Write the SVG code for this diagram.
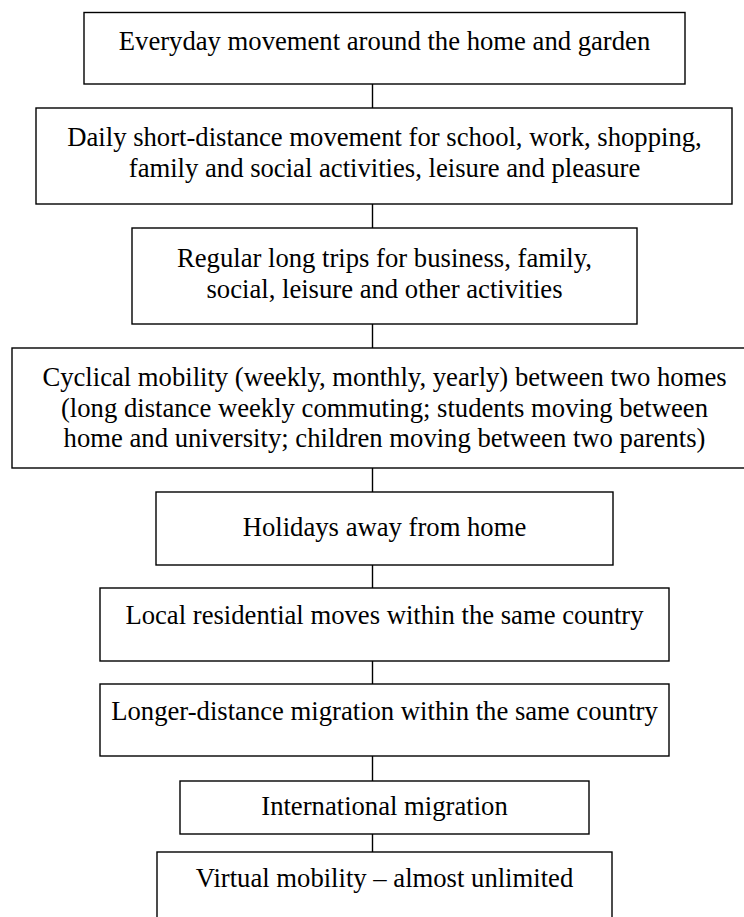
<svg xmlns="http://www.w3.org/2000/svg" width="744" height="917" viewBox="0 0 744 917">
<style>
.box{fill:#fff;stroke:#000;stroke-width:1.4}
.t{font-family:"Liberation Serif","Times New Roman",serif;font-size:26.67px;fill:#000;text-anchor:middle}
.c{stroke:#000;stroke-width:1.4;fill:none}
</style>
<rect width="744" height="917" fill="#fff"/>
<g id="connectors">
<line class="c" x1="372.5" y1="84" x2="372.5" y2="108"/>
<line class="c" x1="372.5" y1="204" x2="372.5" y2="228"/>
<line class="c" x1="372.5" y1="324" x2="372.5" y2="348"/>
<line class="c" x1="372.5" y1="468" x2="372.5" y2="492"/>
<line class="c" x1="372.5" y1="565" x2="372.5" y2="588"/>
<line class="c" x1="372.5" y1="661" x2="372.5" y2="684"/>
<line class="c" x1="372.5" y1="756" x2="372.5" y2="781"/>
<line class="c" x1="372.5" y1="834" x2="372.5" y2="852"/>
</g>
<g id="n1"><rect class="box" x="84" y="12.5" width="601" height="71.5"/><text class="t" x="384.5" y="50">Everyday movement around the home and garden</text></g>
<g id="n2"><rect class="box" x="36" y="108" width="696" height="96"/><text class="t" x="384.5" y="146">Daily short-distance movement for school, work, shopping,</text><text class="t" x="384.5" y="177">family and social activities, leisure and pleasure</text></g>
<g id="n3"><rect class="box" x="132" y="228" width="505" height="96"/><text class="t" x="384.5" y="267">Regular long trips for business, family,</text><text class="t" x="384.5" y="298">social, leisure and other activities</text></g>
<g id="n4"><rect class="box" x="12" y="348" width="745" height="120"/><text class="t" x="384.5" y="386">Cyclical mobility (weekly, monthly, yearly) between two homes</text><text class="t" x="384.5" y="416.5">(long distance weekly commuting; students moving between</text><text class="t" x="384.5" y="447">home and university; children moving between two parents)</text></g>
<g id="n5"><rect class="box" x="156" y="492" width="457" height="73"/><text class="t" x="384.5" y="536">Holidays away from home</text></g>
<g id="n6"><rect class="box" x="100" y="588" width="569" height="73"/><text class="t" x="384.5" y="623.5">Local residential moves within the same country</text></g>
<g id="n7"><rect class="box" x="100" y="684" width="569" height="72"/><text class="t" x="384.5" y="719.5">Longer-distance migration within the same country</text></g>
<g id="n8"><rect class="box" x="180" y="781" width="409" height="53"/><text class="t" x="384.5" y="815">International migration</text></g>
<g id="n9"><rect class="box" x="157" y="852" width="455" height="80"/><text class="t" x="384.5" y="887">Virtual mobility – almost unlimited</text></g>
</svg>
